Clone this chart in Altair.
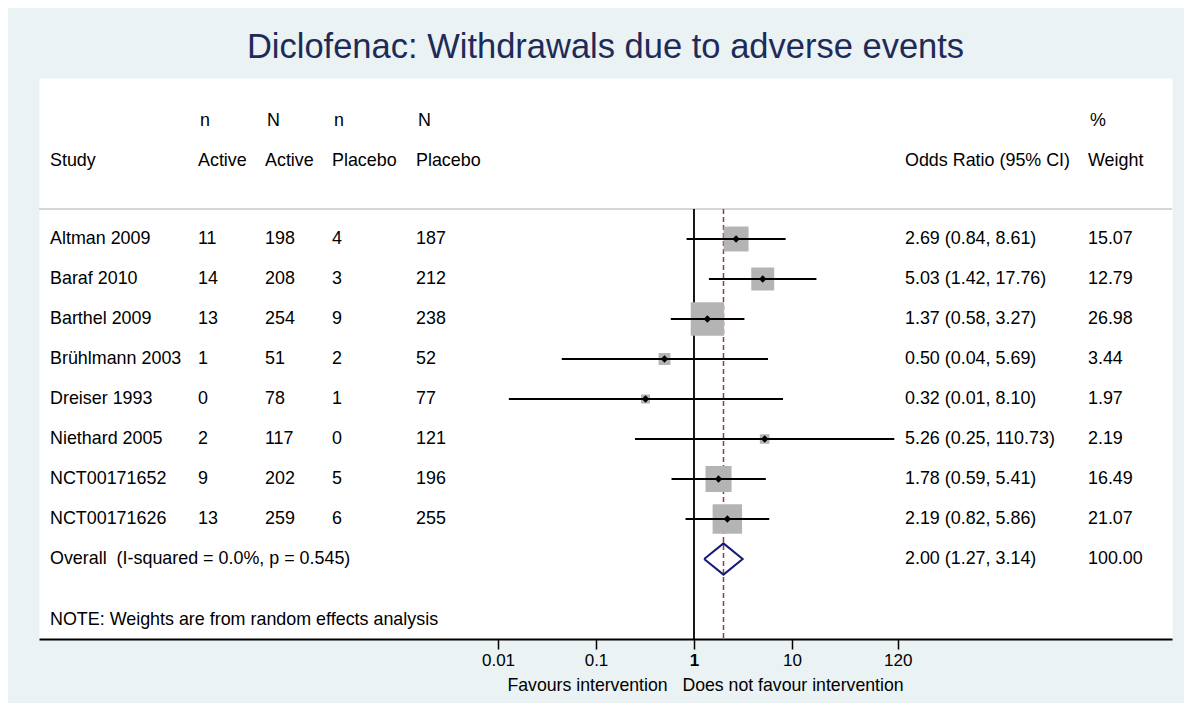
import altair as alt
import pandas as pd

# ---------------- data ----------------
studies = ["Altman 2009", "Baraf 2010", "Barthel 2009", "Brühlmann 2003",
           "Dreiser 1993", "Niethard 2005", "NCT00171652", "NCT00171626"]
n_active = [11, 14, 13, 1, 0, 2, 9, 13]
N_active = [198, 208, 254, 51, 78, 117, 202, 259]
n_placebo = [4, 3, 9, 2, 1, 0, 5, 6]
N_placebo = [187, 212, 238, 52, 77, 121, 196, 255]
odds_ratio = [2.69, 5.03, 1.37, 0.50, 0.32, 5.26, 1.78, 2.19]
ci_low = [0.84, 1.42, 0.58, 0.0447, 0.0129, 0.25, 0.59, 0.82]
ci_high = [8.61, 17.76, 3.27, 5.69, 8.10, 110.73, 5.41, 5.86]
weights = [15.07, 12.79, 26.98, 3.44, 1.97, 2.19, 16.49, 21.07]

overall_label = "Overall\u00a0\u00a0(I-squared = 0.0%, p = 0.545)"
overall_or, overall_low, overall_high, overall_weight = 2.00, 1.27, 3.14, 100.00
note_text = "NOTE: Weights are from random effects analysis"
title_text = "Diclofenac: Withdrawals due to adverse events"
tick_values = [0.01, 0.1, 1, 10, 120]
axis_title = "Favours intervention\u00a0\u00a0\u00a0Does not favour intervention"

header_top = ["n", "N", "n", "N", "%"]
header_bottom = ["Study", "Active", "Active", "Placebo", "Placebo",
                 "Odds Ratio (95% CI)", "Weight"]

# ---------------- layout / style ----------------
FONT = "Liberation Sans"
FS = 17.9
BG = "#eaf2f3"
W, H = 1133, 561
ROW_TOP, ROW_BOTTOM = -4.025, 10.0
HDR1_ROW, HDR2_ROW, SEP_ROW = -2.95, -1.95, -0.75
OVERALL_ROW = len(studies)
NOTE_ROW = 9.525
DIAMOND_HALF = 0.39

# column pixel positions inside the plot area
COL_STUDY, COL_NA, COL_NNA, COL_NP, COL_NNP, COL_OR, COL_W = 11, 159, 226, 293, 377, 866, 1049
HEADER_COLS_TOP = [COL_NA, COL_NNA, COL_NP, COL_NNP, COL_W]
HEADER_COLS_BOTTOM = [COL_STUDY, COL_NA, COL_NNA, COL_NP, COL_NNP, COL_OR, COL_W]

yscale = alt.Scale(domain=[ROW_TOP, ROW_BOTTOM], reverse=True, nice=False, zero=False)
xscale = alt.Scale(type="log", domain=[10 ** (-6.684), 10 ** 4.878], nice=False)


def X(field):
    return alt.X(field, type="quantitative", scale=xscale,
                 axis=alt.Axis(values=tick_values, format=".2~f", title=axis_title,
                               grid=False, domainColor="black", domainWidth=2,
                               tickColor="black", tickWidth=1.5, tickSize=10,
                               labelFont=FONT, labelFontSize=17, labelColor="black",
                               labelFontWeight=alt.ExprRef(expr="datum.value == 1 ? 'bold' : 'normal'"),
                               labelPadding=3, labelOverlap=False,
                               titleFont=FONT, titleFontSize=17.7, titleFontWeight="normal",
                               titleColor="black", titleX=666, titleY=46,
                               titleAlign="center", titleBaseline="middle"))


def Y(field):
    return alt.Y(field, type="quantitative", scale=yscale, axis=None)


# ---------------- tables ----------------
rows = pd.DataFrame({
    "row": list(range(len(studies))),
    "study": studies,
    "na": [str(v) for v in n_active],
    "nna": [str(v) for v in N_active],
    "np": [str(v) for v in n_placebo],
    "nnp": [str(v) for v in N_placebo],
    "or": odds_ratio,
    "lo": ci_low,
    "hi": ci_high,
    "w": weights,
})
rows["ci_txt"] = [f"{e:.2f} ({l:.2f}, {h:.2f})" for e, l, h in zip(odds_ratio, ci_low, ci_high)]
rows["w_txt"] = [f"{w:.2f}" for w in weights]

overall = pd.DataFrame({
    "row": [OVERALL_ROW],
    "study": [overall_label],
    "ci_txt": [f"{overall_or:.2f} ({overall_low:.2f}, {overall_high:.2f})"],
    "w_txt": [f"{overall_weight:.2f}"],
})

diamond = pd.DataFrame({
    "x": [overall_low, overall_or, overall_high, overall_or, overall_low],
    "y": [OVERALL_ROW, OVERALL_ROW - DIAMOND_HALF, OVERALL_ROW,
          OVERALL_ROW + DIAMOND_HALF, OVERALL_ROW],
    "ord": [0, 1, 2, 3, 4],
})

vlines = pd.DataFrame({"x": [1.0], "y": [SEP_ROW], "y2": [ROW_BOTTOM]})
dline = pd.DataFrame({"x": [overall_or], "y": [SEP_ROW], "y2": [ROW_BOTTOM]})
sep = pd.DataFrame({"y": [SEP_ROW]})
note = pd.DataFrame({"row": [NOTE_ROW], "t": [note_text]})


def text_layer(df, field, xpx, **kw):
    return alt.Chart(df).mark_text(align="left", baseline="middle", font=FONT,
                                   fontSize=FS, color="black", **kw).encode(
        x=alt.value(xpx), y=Y("row"), text=alt.Text(f"{field}:N"))


layers = []

# separator line under header
layers.append(alt.Chart(sep).mark_rule(color="#c8c8c8", strokeWidth=1.5).encode(y=Y("y")))

# line of no effect and overall effect line
layers.append(alt.Chart(vlines).mark_rule(color="black", strokeWidth=1.8).encode(
    x=X("x"), y=Y("y"), y2="y2"))
layers.append(alt.Chart(dline).mark_rule(color="#a0343e", strokeWidth=1.5,
                                         strokeDash=[5, 3]).encode(
    x=X("x"), y=Y("y"), y2="y2"))

# weight boxes
layers.append(alt.Chart(rows).mark_square(color="#b4b4b4", opacity=1).encode(
    x=X("or"), y=Y("row"),
    size=alt.Size("w:Q", scale=alt.Scale(domain=[0, 100], range=[0, 4120]), legend=None)))

# confidence intervals
layers.append(alt.Chart(rows).mark_rule(color="black", strokeWidth=2).encode(
    x=X("lo"), x2="hi", y=Y("row")))

# point estimates
layers.append(alt.Chart(rows).mark_point(shape="diamond", filled=True, color="black",
                                         size=55, opacity=1).encode(
    x=X("or"), y=Y("row")))

# overall diamond
layers.append(alt.Chart(diamond).mark_line(color="#161a7a", strokeWidth=2).encode(
    x=X("x"), y=Y("y"), order="ord:Q"))

# header texts
for t, xp in zip(header_top, HEADER_COLS_TOP):
    layers.append(text_layer(pd.DataFrame({"row": [HDR1_ROW], "t": [t]}), "t", xp + 2))
for t, xp in zip(header_bottom, HEADER_COLS_BOTTOM):
    layers.append(text_layer(pd.DataFrame({"row": [HDR2_ROW], "t": [t]}), "t", xp))

# table columns
layers.append(text_layer(rows, "study", COL_STUDY))
layers.append(text_layer(rows, "na", COL_NA))
layers.append(text_layer(rows, "nna", COL_NNA))
layers.append(text_layer(rows, "np", COL_NP))
layers.append(text_layer(rows, "nnp", COL_NNP))
layers.append(text_layer(rows, "ci_txt", COL_OR))
layers.append(text_layer(rows, "w_txt", COL_W))
layers.append(text_layer(overall, "study", COL_STUDY))
layers.append(text_layer(overall, "ci_txt", COL_OR))
layers.append(text_layer(overall, "w_txt", COL_W))
layers.append(text_layer(note, "t", COL_STUDY))

chart = alt.layer(*layers).properties(
    width=W, height=H,
    title=alt.Title(title_text, font=FONT, fontSize=34.5, fontWeight="normal",
                    color="#1e2b58", anchor="middle", baseline="alphabetic",
                    offset=20, dy=34),
    autosize=alt.AutoSizeParams(type="none"),
    padding={"left": 31, "top": 70, "right": 12, "bottom": 64},
    background=BG,
).configure_view(fill="white", strokeOpacity=0)

chart.save("out.html", embed_options={"renderer": "svg", "actions": False})
